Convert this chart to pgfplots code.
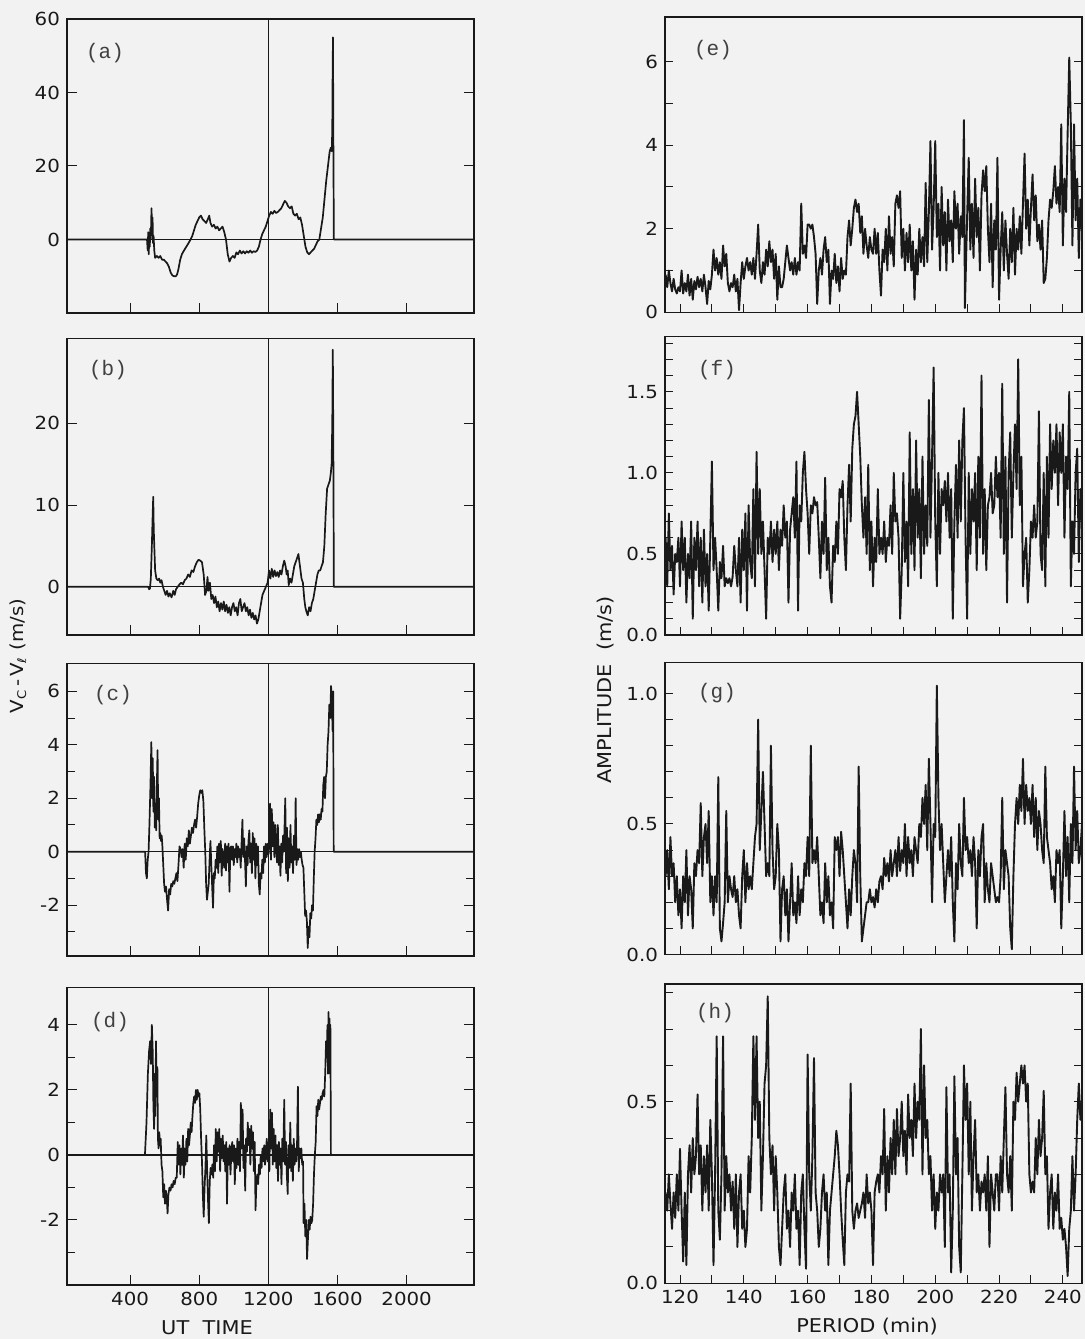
\documentclass[border=0pt]{standalone}
\usepackage{fontspec}
\usepackage{pgfplots}
\pgfplotsset{compat=1.18}
\setmainfont{DejaVu Sans}[FakeStretch=1.1]
\newfontfamily\labfont{Liberation Mono}
\definecolor{ink}{gray}{0.1}
\definecolor{paper}{gray}{0.95}
\tikzset{plab/.style={font=\labfont\fontsize{10.5}{12}\selectfont, text=black!75}}
\pgfplotsset{
  panel/.style={scale only axis, axis line style={line width=0.7pt, ink},
    tick style={line width=0.5pt, ink}, tick align=inside, xtick pos=left, ytick pos=both,
    ticklabel style={font=\fontsize{9}{10}\selectfont, text=ink},
    /pgf/number format/assume math mode=true, /pgf/number format/1000 sep={}},
  leftpanel/.style={panel, width=203.5pt, xmin=35, xmax=2390, xtick={400,800,1200,1600,2000},
    major tick length=5pt, minor tick length=4pt},
  rightpanel/.style={panel, width=208.5pt, xmin=115.3, xmax=246, xtick={120,140,...,240},
    minor xtick={130,150,...,230}, major tick length=4pt, minor tick length=4pt},
  data/.style={ink, line width=0.85pt, line join=round},
  rdata/.style={ink, line width=0.95pt, line join=round},
}
\begin{document}
\begin{tikzpicture}
\path[use as bounding box, fill=paper] (0,0) rectangle (542.5pt,669.5pt);
% (a)
\begin{axis}[leftpanel, at={(33.5pt,513pt)}, anchor=south west, height=147pt,
  ymin=-20, ymax=60, ytick={0,20,40,60}, xticklabels={}]
\addplot[ink, line width=0.45pt] coordinates {(1200,-100)(1200,100)};
\addplot[ink, line width=0.6pt] coordinates {(0,0)(2400,0)};
\addplot[data] coordinates {(0,0)(498,0)(502,-3)(505,2)(508,-4)(511,1)(514,-2)(517,3)(520,0)(524,8.5)(527,3)(530,6)(533,-1)(536,1)(540,-3)(545,-5)(555,-4.5)(565,-5)(575,-4.5)(585,-5.5)(595,-5.5)(605,-6)(615,-6.5)(625,-7.5)(635,-9)(645,-9.8)(655,-10)(665,-10)(672,-9.5)(680,-8)(690,-5.5)(700,-4)(712,-3)(725,-2)(738,-1)(750,0)(760,1)(770,2.5)(780,4)(790,5)(800,6)(810,6.5)(820,5.5)(830,5)(840,4.5)(850,5.5)(858,6.5)(865,4.5)(875,3.5)(885,4)(895,3)(905,3.5)(915,2.5)(925,3)(935,3.5)(945,2)(955,0)(965,-4)(975,-6)(985,-5)(995,-4.5)(1005,-5)(1015,-3.5)(1025,-4)(1035,-3)(1045,-3.8)(1055,-3.2)(1065,-3.8)(1075,-3.2)(1085,-3.6)(1095,-3.0)(1105,-3.6)(1115,-3.2)(1125,-3.4)(1135,-3)(1145,-2)(1155,0)(1165,1.5)(1175,2.5)(1185,3.5)(1195,5)(1205,6.5)(1215,7.5)(1225,7)(1235,7.8)(1245,7.2)(1255,7.5)(1265,8)(1275,8.5)(1285,9.5)(1295,10.5)(1305,10)(1315,9)(1325,8.5)(1335,9)(1345,7)(1355,6.5)(1365,7)(1375,5.5)(1385,6)(1395,4)(1405,1)(1415,-2)(1425,-3.5)(1435,-4)(1445,-3.5)(1455,-3)(1465,-2.5)(1475,-1.5)(1485,-0.5)(1495,0)(1505,3)(1515,6)(1525,11)(1535,16)(1545,20)(1555,24)(1562,25)(1567,24)(1570,30)(1572,45)(1574,55)(1576,30)(1579,0)(2400,0)};
\node[plab] at ([xshift=19pt,yshift=-17pt]rel axis cs:0,1) {(a)};
\end{axis}
% (b)
\begin{axis}[leftpanel, at={(33.5pt,352pt)}, anchor=south west, height=148.35pt,
  ymin=-5.9, ymax=30.4, ytick={0,10,20}, xticklabels={}]
\addplot[ink, line width=0.45pt] coordinates {(1200,-100)(1200,100)};
\addplot[ink, line width=0.6pt] coordinates {(0,0)(2400,0)};
\addplot[data] coordinates {(0,0)(505,0)(510,-0.3)(515,-0.2)(520,1)(526,5)(531,9)(534,11)(537,7)(540,5)(545,2)(552,1)(560,0.8)(568,1)(575,0.5)(582,0.8)(590,0)(598,-0.5)(606,-1)(614,-0.5)(622,-1.2)(630,-0.8)(640,-1.3)(650,-0.5)(658,-1)(666,-0.3)(676,0)(686,0.3)(696,0.5)(706,0.3)(716,0.8)(726,1)(736,1.5)(746,1.2)(756,2)(766,1.8)(776,2.5)(786,3)(796,3.3)(806,3.2)(816,3)(826,1.5)(834,-1)(842,-0.5)(848,1.2)(854,-0.5)(862,0.5)(870,-1.5)(878,-1)(886,-2)(894,-1.2)(902,-2.5)(910,-1.8)(918,-3)(926,-2)(934,-2.8)(942,-1.8)(950,-3)(958,-2.2)(966,-3.2)(974,-2.5)(982,-3.5)(990,-2.5)(998,-2)(1006,-3)(1014,-2.5)(1022,-3.5)(1030,-2)(1038,-1.5)(1046,-3)(1054,-2.5)(1062,-2)(1070,-3)(1078,-2.5)(1086,-3.5)(1094,-2.8)(1102,-3.8)(1110,-3.2)(1118,-4)(1126,-3.5)(1134,-4.5)(1142,-4)(1150,-3)(1158,-2)(1166,-1)(1176,-0.5)(1186,0)(1196,0.5)(1204,2)(1212,1)(1220,2.2)(1228,1.2)(1236,2)(1244,1.3)(1252,1.8)(1260,1.2)(1268,2)(1276,1.5)(1284,2.5)(1292,3.2)(1300,2.5)(1306,1.5)(1312,2)(1318,0.2)(1326,1)(1334,0.5)(1342,1.5)(1350,2.5)(1358,3)(1366,3.5)(1374,4)(1380,3)(1386,2)(1392,1)(1400,0.5)(1408,-1.5)(1414,-2.5)(1420,-3)(1428,-3.5)(1436,-2.5)(1444,-3)(1452,-2)(1460,-1.5)(1468,-0.5)(1476,0.5)(1484,1.5)(1492,2)(1500,2)(1508,2.5)(1516,3)(1524,5)(1532,9)(1540,12)(1548,12.5)(1556,13)(1562,14)(1566,15)(1570,20)(1573,29)(1576,18)(1579,0)(2400,0)};
\node[plab] at ([xshift=20.5pt,yshift=-16pt]rel axis cs:0,1) {(b)};
\end{axis}
% (c)
\begin{axis}[leftpanel, at={(33.5pt,191.5pt)}, anchor=south west, height=146.35pt,
  ymin=-3.9, ymax=7.05, ytick={-2,0,2,4,6}, minor ytick={-3,-1,1,3,5}, xticklabels={}]
\addplot[ink, line width=0.45pt] coordinates {(1200,-100)(1200,100)};
\addplot[ink, line width=0.6pt] coordinates {(0,0)(2400,0)};
\addplot[data] coordinates {(0,0)(487,0)(492,-0.8)(497,-1)(502,-0.3)(507,0)(512,1)(518,2.5)(523,4.1)(527,2)(531,3.5)(535,1.5)(539,2.8)(543,0.9)(547,1.8)(551,0.8)(555,2.5)(559,3.8)(563,1.2)(567,2)(571,0.5)(575,0.7)(579,0.4)(583,0.6)(587,0.2)(592,-0.5)(597,-1.2)(602,-1.5)(608,-1.3)(614,-1.8)(620,-2.2)(626,-1.4)(632,-1.6)(638,-1.2)(644,-1.3)(650,-1.1)(656,-1.2)(662,-1.0)(668,-0.8)(674,-1.1)(680,-0.5)(686,0.2)(692,0.1)(698,-0.2)(704,0.1)(710,-0.6)(716,0.3)(722,-0.3)(728,0.5)(734,0.2)(740,0.8)(746,0.3)(752,0.6)(758,0.9)(764,0.7)(770,1.0)(776,1.2)(782,0.9)(788,1.3)(794,1.8)(800,2.1)(806,2.3)(812,2.2)(818,2.3)(824,1.9)(830,0.8)(835,0)(840,-1.2)(845,-1.8)(850,-1.5)(855,-1.2)(860,-0.3)(865,0.4)(870,-0.5)(875,-1.3)(880,-2.1)(885,-0.8)(890,-1.0)(895,-0.3)(900,-0.6)(905,0.2)(910,-0.8)(915,0.3)(920,-0.4)(925,0.4)(930,-0.9)(935,0.1)(940,-0.3)(945,-0.6)(950,0.3)(955,-0.7)(960,0.2)(965,-0.4)(970,0.3)(975,-1.5)(980,0.1)(985,0.2)(990,-0.3)(995,0.2)(1000,-0.5)(1005,0.1)(1010,-0.2)(1015,0.3)(1020,-0.4)(1025,0.2)(1030,-0.2)(1035,0.1)(1040,-0.6)(1045,0.3)(1050,1.2)(1055,-0.2)(1060,0.5)(1065,-0.3)(1070,-1.3)(1075,0.2)(1080,-0.5)(1085,0.4)(1090,0.8)(1095,-0.4)(1100,0.3)(1105,-0.8)(1110,0.7)(1115,-0.3)(1120,0.5)(1125,-1.0)(1130,0.3)(1135,-0.5)(1140,0.2)(1145,-1.2)(1150,-1.6)(1155,-0.8)(1160,-1.0)(1165,-0.3)(1170,-0.8)(1175,0.2)(1180,-0.4)(1185,0.3)(1190,-0.2)(1195,0.3)(1200,-0.1)(1205,0.4)(1210,1.8)(1215,-0.3)(1220,1.6)(1225,0.2)(1230,1.1)(1235,-0.2)(1240,1.0)(1245,0.3)(1250,-0.4)(1255,1.0)(1260,-0.5)(1265,0.2)(1270,-0.9)(1275,0.3)(1280,-0.4)(1285,0.6)(1290,0)(1298,2.0)(1303,-0.8)(1308,0.9)(1313,-1.1)(1318,0.5)(1323,-0.6)(1328,1.0)(1333,-0.4)(1338,0.2)(1343,-0.8)(1348,0.6)(1353,-0.3)(1358,2.0)(1363,-0.5)(1368,0.1)(1373,-0.3)(1378,0.1)(1383,-0.2)(1388,0)(1393,-0.3)(1398,-0.5)(1403,-0.6)(1408,-1.5)(1413,-2.4)(1418,-2.2)(1423,-2.6)(1428,-3.6)(1433,-2.8)(1438,-3.2)(1443,-2.3)(1448,-2.5)(1453,-2.0)(1458,-2.2)(1463,-1.0)(1468,0)(1473,0.5)(1478,1.2)(1483,1.0)(1488,1.4)(1493,1.1)(1498,1.4)(1503,1.2)(1508,1.6)(1513,1.5)(1518,2.5)(1523,2.8)(1528,2.0)(1533,2.8)(1538,3.0)(1543,4.0)(1548,4.5)(1553,5.5)(1558,5.0)(1563,6.2)(1568,5.5)(1572,4.5)(1575,6.0)(1578,0)(2400,0)};
\node[plab] at ([xshift=23pt,yshift=-16pt]rel axis cs:0,1) {(c)};
\end{axis}
% (d)
\begin{axis}[leftpanel, at={(33.5pt,27pt)}, anchor=south west, height=148.85pt,
  ymin=-4, ymax=5.16, ytick={-2,0,2,4}, minor ytick={-3,-1,1,3}]
\addplot[ink, line width=0.45pt] coordinates {(1200,-100)(1200,100)};
\addplot[ink, line width=0.6pt] coordinates {(0,0)(2400,0)};
\addplot[data] coordinates {(0,0)(486,0)(495,1)(503,2.5)(510,3.2)(516,3.5)(521,2.8)(526,4.0)(531,3.2)(535,1.5)(539,0.8)(543,2.5)(546,1.2)(550,3.5)(554,1.8)(558,2.7)(561,0.5)(565,0.2)(569,0.7)(573,0.3)(577,0.5)(582,-0.3)(587,-0.5)(592,-1.3)(597,-0.9)(602,-1.5)(607,-1.1)(612,-1.3)(617,-1.8)(622,-1.2)(628,-1.0)(634,-1.1)(640,-0.9)(646,-1.0)(652,-0.8)(658,-0.9)(664,-0.7)(670,-0.7)(676,0.4)(681,-0.3)(686,0.3)(691,-0.6)(696,0.2)(701,-0.3)(706,0.6)(711,-0.7)(716,0.2)(721,-0.3)(726,0.5)(731,-0.2)(736,0.8)(741,0.3)(746,0.6)(751,1.0)(756,0.7)(761,1.2)(766,1.6)(771,1.8)(776,1.6)(781,2.0)(786,1.7)(791,2.0)(796,1.8)(801,1.9)(806,1.4)(811,0.5)(816,-0.2)(821,-1.2)(826,-1.9)(831,-1.0)(836,-0.4)(841,0.6)(846,-0.5)(851,-1.4)(856,-2.1)(861,-0.8)(866,-0.4)(871,-0.6)(876,-0.3)(881,-0.7)(886,0.3)(891,-0.5)(896,0.8)(901,-0.2)(906,0.7)(911,0.1)(916,0.8)(921,-0.5)(926,0.5)(931,-0.1)(936,0.6)(941,-0.2)(946,0.3)(951,-0.5)(956,0.4)(961,-1.5)(966,0.2)(971,-0.3)(976,0.3)(981,-0.6)(986,0.1)(991,0.4)(996,-0.2)(1001,0.3)(1006,-0.9)(1011,0.2)(1016,-0.4)(1021,0.5)(1026,-0.3)(1031,0.4)(1036,-0.5)(1041,1.6)(1046,0.2)(1051,1.4)(1056,-0.4)(1061,0.3)(1066,-1.1)(1071,0.5)(1076,0.1)(1081,1.0)(1086,0.3)(1091,0.8)(1096,-0.3)(1101,0.9)(1106,0.2)(1111,0.7)(1116,-0.5)(1121,0.4)(1126,-1.7)(1131,-0.8)(1136,-0.6)(1141,-0.9)(1146,-0.3)(1151,-0.6)(1156,0)(1161,-0.4)(1166,0.2)(1171,-0.2)(1176,0.3)(1181,-0.3)(1186,0.1)(1191,0.5)(1196,-0.2)(1201,0.3)(1206,-0.5)(1211,1.4)(1216,0.2)(1221,1.3)(1226,-0.3)(1231,0.8)(1236,-0.2)(1241,0.6)(1246,-0.4)(1251,0.3)(1256,-0.8)(1261,0.4)(1266,-0.3)(1271,0.2)(1276,-0.9)(1281,0.5)(1286,-0.2)(1292,1.7)(1297,-0.3)(1302,0.4)(1307,-0.6)(1312,-1.2)(1317,0.3)(1322,-0.4)(1327,1.0)(1332,-0.5)(1337,0.3)(1342,-0.8)(1347,0.5)(1352,-0.3)(1357,0.2)(1362,-0.2)(1366,0.3)(1371,2.1)(1376,-0.5)(1381,0.2)(1386,-0.1)(1391,0.2)(1396,-0.3)(1401,-0.2)(1404,-2.1)(1409,-1.5)(1414,-2.5)(1419,-2.0)(1424,-3.2)(1429,-2.6)(1434,-2.0)(1439,-2.3)(1444,-1.9)(1449,-2.1)(1454,-2.0)(1459,-1.5)(1464,-0.6)(1469,0)(1474,0.4)(1479,1.5)(1484,1.2)(1489,1.7)(1494,1.4)(1499,1.6)(1504,1.8)(1509,1.7)(1514,1.9)(1519,2.0)(1524,1.8)(1529,2.5)(1534,3.5)(1538,3.0)(1542,4.0)(1545,2.5)(1548,4.4)(1551,3.0)(1554,4.2)(1557,2.5)(1559,4.0)(1562,0)(2400,0)};
\node[plab] at ([xshift=21.5pt,yshift=-17.5pt]rel axis cs:0,1) {(d)};
\end{axis}
% (e)
\begin{axis}[rightpanel, at={(332.5pt,513.35pt)}, anchor=south west, height=147.65pt,
  ymin=0, ymax=7.07, ytick={0,2,4,6}, minor ytick={1,3,5}, xticklabels={}]
\addplot[rdata] coordinates {(115.5,0.9)(116,0.6)(116.5,1.0)(117,0.7)(117.5,0.5)(118,0.8)(118.5,0.55)(119,0.45)(119.5,0.6)(120,0.5)(120.5,1.0)(121,0.45)(121.5,0.7)(122,0.5)(122.5,0.9)(123,0.4)(123.5,0.8)(124,0.3)(124.5,0.75)(125,0.55)(125.5,0.85)(126,0.6)(126.5,0.8)(127,0.5)(127.5,0.9)(128,0.6)(128.5,0.2)(129,0.75)(129.5,0.55)(130,0.9)(130.5,1.5)(131,1.0)(131.5,1.3)(132,0.9)(132.5,1.2)(133,0.8)(133.5,1.6)(134,1.1)(134.5,1.4)(135,0.7)(135.5,0.5)(136,0.7)(136.5,0.6)(137,0.9)(137.5,0.5)(138,0.8)(138.5,0.05)(139,0.7)(139.5,1.2)(140,0.8)(140.5,1.1)(141,1.3)(141.5,1.0)(142,1.2)(142.5,0.9)(143,1.3)(143.5,0.8)(144,1.4)(144.5,2.1)(145,1.0)(145.5,0.7)(146,1.2)(146.5,0.9)(147,1.5)(147.5,1.1)(148,1.7)(148.5,1.2)(149,1.5)(149.5,0.8)(150,1.4)(150.5,0.3)(151,1.1)(151.5,0.6)(152,0.6)(152.5,0.8)(153,1.2)(153.5,1.6)(154,1.3)(154.5,1.0)(155,1.2)(155.5,0.9)(156,1.3)(156.5,0.9)(157,1.2)(157.5,1.0)(158,2.6)(158.5,1.4)(159,1.6)(159.5,1.3)(160,2.1)(160.5,2.1)(161,2.0)(161.5,2.1)(162,1.8)(162.5,1.4)(163,0.2)(163.5,1.0)(164,1.3)(164.5,0.9)(165,1.5)(165.5,1.8)(166,1.2)(166.5,1.5)(167,0.2)(167.5,1.0)(168,0.8)(168.5,1.4)(169,0.7)(169.5,1.1)(170,0.5)(170.5,1.3)(171,0.8)(171.5,1.0)(172,0.9)(172.5,1.8)(173,2.2)(173.5,1.6)(174,2.0)(174.5,2.5)(175,2.7)(175.5,2.4)(176,2.6)(176.5,1.9)(177,2.3)(177.5,1.4)(178,2.0)(178.5,1.6)(179,1.3)(179.5,1.8)(180,1.5)(180.5,1.4)(181,2.0)(181.5,1.4)(182,1.9)(182.5,1.0)(183,0.4)(183.5,1.5)(184,1.2)(184.5,2.0)(185,1.0)(185.5,2.3)(186,1.4)(186.5,1.8)(187,1.1)(187.5,2.6)(188,2.8)(188.5,2.5)(189,2.9)(189.5,1.3)(190,2.0)(190.5,1.0)(191,1.9)(191.5,1.2)(192,2.1)(192.5,1.0)(193,1.7)(193.5,0.3)(194,1.5)(194.5,0.9)(195,2.0)(195.5,1.2)(196,1.8)(196.5,1.1)(197,3.1)(197.5,1.2)(198,2.4)(198.5,4.1)(199,1.5)(199.5,2.5)(200,4.1)(200.5,1.8)(201,2.6)(201.5,1.0)(202,3.0)(202.5,1.6)(203,2.4)(203.5,1.0)(204,2.7)(204.5,1.7)(205,2.2)(205.5,1.2)(206,2.9)(206.5,2.0)(207,2.6)(207.5,1.4)(208,2.3)(208.5,1.8)(209,4.6)(209.3,0.1)(210,2.3)(210.5,3.7)(211,1.5)(211.5,2.6)(212,1.3)(212.5,3.2)(213,1.8)(213.5,2.5)(214,1.0)(214.5,2.8)(215,3.4)(215.5,2.9)(216,3.5)(216.5,2.0)(217,1.2)(217.5,2.6)(218,0.6)(218.5,2.2)(219,1.5)(219.5,3.7)(220,0.3)(220.5,1.5)(221,2.4)(221.5,1.0)(222,2.2)(222.5,1.4)(223,0.8)(223.5,2.0)(224,1.2)(224.5,2.5)(225,0.9)(225.5,2.0)(226,1.5)(226.5,2.3)(227,1.4)(227.5,2.6)(228,3.8)(228.5,2.0)(229,2.7)(229.5,1.6)(230,2.5)(230.5,3.3)(231,2.2)(231.5,2.8)(232,1.7)(232.5,2.1)(233,1.5)(233.5,2.2)(234,0.7)(234.5,0.8)(235,1.3)(235.5,2.2)(236,2.7)(236.5,2.5)(237,2.9)(237.5,3.5)(238,2.6)(238.5,3.0)(239,2.4)(239.5,4.5)(240,1.6)(240.5,3.2)(241,2.4)(241.5,4.3)(242,6.1)(242.5,4.5)(243,1.6)(243.5,4.5)(244,2.2)(244.5,3.2)(245,1.3)(245.5,2.7)(246,2.0)};
\node[plab] at ([xshift=24pt,yshift=-16.5pt]rel axis cs:0,1) {(e)};
\end{axis}
% (f)
\begin{axis}[rightpanel, at={(332.5pt,352pt)}, anchor=south west, height=149.15pt,
  ymin=0, ymax=1.84, ytick={0,0.5,1.0,1.5}, minor ytick={0.1,0.2,...,1.8}, xticklabels={},
  yticklabel style={/pgf/number format/.cd, fixed, fixed zerofill, precision=1}]
\addplot[rdata] coordinates {(115.5,0.6)(116,0.3)(116.5,0.75)(117,0.4)(117.5,0.55)(118,0.25)(118.5,0.5)(119,0.45)(119.5,0.6)(120,0.3)(120.5,0.7)(121,0.4)(121.5,0.6)(122,0.2)(122.5,0.5)(123,0.35)(123.5,0.7)(124,0.1)(124.5,0.6)(125,0.4)(125.5,0.7)(126,0.3)(126.5,0.6)(127,0.2)(127.5,0.65)(128,0.3)(128.5,0.5)(129,0.15)(129.5,0.6)(130,1.07)(130.5,0.4)(131,0.6)(131.5,0.4)(132,0.15)(132.5,0.45)(133,0.35)(133.5,0.55)(134,0.3)(134.5,0.35)(135,0.32)(135.5,0.35)(136,0.3)(136.5,0.36)(137,0.55)(137.5,0.4)(138,0.3)(138.5,0.6)(139,0.2)(139.5,0.65)(140,0.4)(140.5,0.75)(141,0.15)(141.5,0.8)(142,0.45)(142.5,0.35)(143,0.9)(143.5,0.3)(144,1.13)(144.5,0.5)(145,0.9)(145.5,0.5)(146,0.7)(146.5,0.4)(147,0.1)(147.5,0.6)(148,0.5)(148.5,0.7)(149,0.45)(149.5,0.65)(150,0.5)(150.5,0.7)(151,0.4)(151.5,0.65)(152,0.55)(152.5,0.8)(153,0.6)(153.5,0.7)(154,0.2)(154.5,0.65)(155,0.75)(155.5,0.85)(156,0.6)(156.5,1.07)(157,0.15)(157.5,0.8)(158,0.7)(158.5,1.0)(159,1.13)(159.5,0.9)(160,0.75)(160.5,0.5)(161,0.8)(161.5,0.75)(162,0.85)(162.5,0.8)(163,0.82)(163.5,0.6)(164,0.35)(164.5,0.7)(165,0.5)(165.5,0.97)(166,0.4)(166.5,0.6)(167,0.3)(167.5,0.2)(168,0.55)(168.5,0.45)(169,0.7)(169.5,0.5)(170,0.9)(170.5,0.85)(171,0.95)(171.5,0.6)(172,0.4)(172.5,0.8)(173,1.05)(173.5,0.7)(174,1.15)(174.5,1.3)(175,1.35)(175.5,1.5)(176,1.3)(176.5,1.1)(177,0.8)(177.5,0.6)(178,0.85)(178.5,0.5)(179,1.05)(179.5,0.4)(180,0.7)(180.5,0.3)(181,0.6)(181.5,0.45)(182,0.9)(182.5,0.5)(183,0.6)(183.5,0.5)(184,0.7)(184.5,0.45)(185,0.6)(185.5,0.55)(186,0.8)(186.5,0.5)(187,1.0)(187.5,0.7)(188,0.75)(188.5,0.6)(189,0.1)(189.5,0.4)(190,1.0)(190.5,0.45)(191,0.7)(191.5,0.3)(192,1.25)(192.5,0.5)(193,0.9)(193.5,0.4)(194,1.2)(194.5,0.6)(195,0.9)(195.5,0.35)(196,1.1)(196.5,0.5)(197,0.8)(197.5,0.55)(198,1.45)(198.5,0.6)(199,1.1)(199.5,1.65)(200,0.7)(200.5,0.3)(201,1.0)(201.5,0.5)(202,0.9)(202.5,0.8)(203,0.95)(203.5,0.7)(204,1.0)(204.5,0.6)(205,0.9)(205.5,0.1)(206,0.7)(206.5,1.05)(207,0.6)(207.5,1.2)(208,0.7)(208.5,1.2)(209,1.4)(209.5,0.6)(210,0.1)(210.5,1.0)(211,0.5)(211.5,0.9)(212,0.7)(212.5,1.0)(213,0.4)(213.5,1.1)(214,0.6)(214.5,1.6)(215,0.5)(215.5,0.9)(216,0.4)(216.5,0.8)(217,0.85)(217.5,1.0)(218,0.75)(218.5,0.8)(219,1.1)(219.5,0.85)(220,1.0)(220.5,0.6)(221,1.55)(221.5,0.5)(222,1.1)(222.5,0.2)(223,1.0)(223.5,1.25)(224,0.6)(224.5,1.0)(225,1.3)(225.5,0.9)(226,1.7)(226.5,0.8)(227,1.1)(227.5,0.3)(228,0.5)(228.5,0.6)(229,0.2)(229.5,0.4)(230,0.7)(230.5,0.6)(231,0.8)(231.5,0.6)(232,0.7)(232.5,1.38)(233,0.5)(233.5,0.4)(234,1.0)(234.5,0.3)(235,1.1)(235.5,0.6)(236,1.3)(236.5,0.9)(237,1.2)(237.5,1.0)(238,1.3)(238.5,0.8)(239,1.25)(239.5,1.0)(240,1.3)(240.5,0.6)(241,1.1)(241.5,0.9)(242,1.5)(242.5,0.3)(243,0.7)(243.5,0.5)(244,1.0)(244.5,1.15)(245,0.45)(245.5,0.9)(246,0.7)};
\node[plab] at ([xshift=26pt,yshift=-16.5pt]rel axis cs:0,1) {(f)};
\end{axis}
% (g)
\begin{axis}[rightpanel, at={(332.5pt,192.25pt)}, anchor=south west, height=145.9pt,
  ymin=0, ymax=1.118, ytick={0,0.5,1.0}, minor ytick={0.1,0.2,...,1.0}, xticklabels={},
  yticklabel style={/pgf/number format/.cd, fixed, fixed zerofill, precision=1}]
\addplot[rdata] coordinates {(115.5,0.3)(116,0.4)(116.5,0.25)(117,0.45)(117.5,0.3)(118,0.35)(118.5,0.2)(119,0.3)(119.5,0.15)(120,0.25)(120.5,0.1)(121,0.3)(121.5,0.2)(122,0.4)(122.5,0.15)(123,0.3)(123.5,0.25)(124,0.1)(124.5,0.35)(125,0.3)(125.5,0.4)(126,0.35)(126.5,0.58)(127,0.3)(127.5,0.45)(128,0.5)(128.5,0.35)(129,0.55)(129.5,0.2)(130,0.3)(130.5,0.15)(131,0.3)(131.5,0.2)(132,0.68)(132.5,0.1)(133,0.05)(133.5,0.12)(134,0.2)(134.5,0.55)(135,0.2)(135.5,0.3)(136,0.25)(136.5,0.22)(137,0.3)(137.5,0.2)(138,0.25)(138.5,0.15)(139,0.1)(139.5,0.3)(140,0.4)(140.5,0.2)(141,0.35)(141.5,0.25)(142,0.3)(142.5,0.25)(143,0.35)(143.5,0.45)(144,0.5)(144.5,0.9)(145,0.4)(145.5,0.55)(146,0.7)(146.5,0.5)(147,0.3)(147.5,0.35)(148,0.3)(148.5,0.8)(149,0.4)(149.5,0.25)(150,0.3)(150.5,0.5)(151,0.4)(151.5,0.05)(152,0.25)(152.5,0.3)(153,0.15)(153.5,0.25)(154,0.05)(154.5,0.2)(155,0.35)(155.5,0.15)(156,0.2)(156.5,0.12)(157,0.3)(157.5,0.15)(158,0.25)(158.5,0.2)(159,0.35)(159.5,0.3)(160,0.45)(160.5,0.3)(161,0.8)(161.5,0.35)(162,0.4)(162.5,0.35)(163,0.45)(163.5,0.3)(164,0.15)(164.5,0.2)(165,0.12)(165.5,0.35)(166,0.2)(166.5,0.3)(167,0.15)(167.5,0.2)(168,0.1)(168.5,0.45)(169,0.4)(169.5,0.45)(170,0.3)(170.5,0.47)(171,0.4)(171.5,0.3)(172,0.2)(172.5,0.1)(173,0.25)(173.5,0.15)(174,0.3)(174.5,0.4)(175,0.35)(175.5,0.2)(176,0.72)(176.5,0.3)(177,0.05)(177.5,0.1)(178,0.15)(178.5,0.2)(179,0.2)(179.5,0.25)(180,0.2)(180.5,0.22)(181,0.18)(181.5,0.25)(182,0.2)(182.5,0.28)(183,0.3)(183.5,0.25)(184,0.37)(184.5,0.3)(185,0.35)(185.5,0.28)(186,0.4)(186.5,0.3)(187,0.35)(187.5,0.4)(188,0.3)(188.5,0.45)(189,0.32)(189.5,0.4)(190,0.35)(190.5,0.5)(191,0.3)(191.5,0.45)(192,0.35)(192.5,0.4)(193,0.3)(193.5,0.45)(194,0.4)(194.5,0.35)(195,0.5)(195.5,0.45)(196,0.6)(196.5,0.5)(197,0.65)(197.5,0.4)(198,0.75)(198.5,0.5)(199,0.2)(199.5,0.5)(200,0.45)(200.5,1.03)(201,0.6)(201.5,0.4)(202,0.5)(202.5,0.35)(203,0.2)(203.5,0.3)(204,0.4)(204.5,0.3)(205,0.45)(205.5,0.2)(206,0.05)(206.5,0.35)(207,0.25)(207.5,0.5)(208,0.35)(208.5,0.3)(209,0.6)(209.5,0.4)(210,0.45)(210.5,0.35)(211,0.4)(211.5,0.3)(212,0.45)(212.5,0.35)(213,0.1)(213.5,0.4)(214,0.3)(214.5,0.45)(215,0.5)(215.5,0.2)(216,0.35)(216.5,0.25)(217,0.2)(217.5,0.35)(218,0.3)(218.5,0.25)(219,0.2)(219.5,0.22)(220,0.2)(220.5,0.3)(221,0.6)(221.5,0.25)(222,0.4)(222.5,0.35)(223,0.3)(223.5,0.1)(224,0.02)(224.5,0.3)(225,0.5)(225.5,0.6)(226,0.5)(226.5,0.65)(227,0.55)(227.5,0.75)(228,0.5)(228.5,0.65)(229,0.55)(229.5,0.6)(230,0.5)(230.5,0.65)(231,0.45)(231.5,0.6)(232,0.4)(232.5,0.55)(233,0.5)(233.5,0.4)(234,0.35)(234.5,0.72)(235,0.45)(235.5,0.4)(236,0.35)(236.5,0.25)(237,0.3)(237.5,0.2)(238,0.4)(238.5,0.35)(239,0.4)(239.5,0.1)(240,0.3)(240.5,0.55)(241,0.3)(241.5,0.45)(242,0.2)(242.5,0.5)(243,0.35)(243.5,0.72)(244,0.4)(244.5,0.55)(245,0.35)(245.5,0.4)(246,0.5)};
\node[plab] at ([xshift=26pt,yshift=-15pt]rel axis cs:0,1) {(g)};
\end{axis}
% (h)
\begin{axis}[rightpanel, at={(332.5pt,27.85pt)}, anchor=south west, height=149.65pt,
  ymin=0, ymax=0.824, ytick={0,0.5}, minor ytick={0.1,0.2,0.3,0.4,0.6,0.7,0.8},
  yticklabel style={/pgf/number format/.cd, fixed, fixed zerofill, precision=1}]
\addplot[rdata] coordinates {(115.5,0.25)(116,0.2)(116.5,0.3)(117,0.22)(117.5,0.15)(118,0.25)(118.5,0.18)(119,0.3)(119.5,0.2)(120,0.37)(120.5,0.2)(121,0.06)(121.5,0.25)(122,0.05)(122.5,0.3)(123,0.38)(123.5,0.25)(124,0.4)(124.5,0.3)(125,0.35)(125.5,0.52)(126,0.3)(126.5,0.38)(127,0.2)(127.5,0.35)(128,0.25)(128.5,0.38)(129,0.2)(129.5,0.45)(130,0.3)(130.5,0.05)(131,0.3)(131.5,0.68)(132,0.2)(132.5,0.12)(133,0.3)(133.5,0.68)(134,0.2)(134.5,0.35)(135,0.25)(135.5,0.3)(136,0.2)(136.5,0.28)(137,0.15)(137.5,0.3)(138,0.1)(138.5,0.25)(139,0.3)(139.5,0.15)(140,0.2)(140.5,0.1)(141,0.15)(141.5,0.35)(142,0.25)(142.5,0.4)(143,0.68)(143.5,0.45)(144,0.68)(144.5,0.4)(145,0.5)(145.5,0.2)(146,0.35)(146.5,0.55)(147,0.6)(147.5,0.79)(148,0.4)(148.5,0.3)(149,0.38)(149.5,0.2)(150,0.35)(150.5,0.25)(151,0.1)(151.5,0.05)(152,0.15)(152.5,0.25)(153,0.3)(153.5,0.15)(154,0.2)(154.5,0.1)(155,0.25)(155.5,0.2)(156,0.3)(156.5,0.15)(157,0.2)(157.5,0.05)(158,0.25)(158.5,0.3)(159,0.15)(159.5,0.04)(160,0.63)(160.5,0.3)(161,0.2)(161.5,0.35)(162,0.62)(162.5,0.25)(163,0.2)(163.5,0.1)(164,0.15)(164.5,0.25)(165,0.3)(165.5,0.2)(166,0.25)(166.5,0.05)(167,0.2)(167.5,0.25)(168,0.3)(168.5,0.35)(169,0.42)(169.5,0.38)(170,0.3)(170.5,0.2)(171,0.12)(171.5,0.05)(172,0.25)(172.5,0.3)(173,0.28)(173.5,0.55)(174,0.2)(174.5,0.15)(175,0.2)(175.5,0.22)(176,0.18)(176.5,0.2)(177,0.22)(177.5,0.25)(178,0.18)(178.5,0.3)(179,0.22)(179.5,0.25)(180,0.2)(180.5,0.05)(181,0.25)(181.5,0.28)(182,0.3)(182.5,0.25)(183,0.35)(183.5,0.3)(184,0.48)(184.5,0.2)(185,0.35)(185.5,0.25)(186,0.4)(186.5,0.3)(187,0.45)(187.5,0.3)(188,0.48)(188.5,0.35)(189,0.4)(189.5,0.5)(190,0.35)(190.5,0.42)(191,0.3)(191.5,0.52)(192,0.4)(192.5,0.45)(193,0.35)(193.5,0.55)(194,0.4)(194.5,0.5)(195,0.45)(195.5,0.7)(196,0.3)(196.5,0.6)(197,0.4)(197.5,0.45)(198,0.3)(198.5,0.35)(199,0.2)(199.5,0.3)(200,0.15)(200.5,0.25)(201,0.2)(201.5,0.3)(202,0.25)(202.5,0.3)(203,0.1)(203.5,0.54)(204,0.25)(204.5,0.3)(205,0.03)(205.5,0.2)(206,0.57)(206.5,0.3)(207,0.4)(207.5,0.1)(208,0.03)(208.5,0.3)(209,0.6)(209.5,0.45)(210,0.55)(210.5,0.3)(211,0.5)(211.5,0.2)(212,0.35)(212.5,0.45)(213,0.25)(213.5,0.3)(214,0.2)(214.5,0.28)(215,0.25)(215.5,0.3)(216,0.2)(216.5,0.35)(217,0.1)(217.5,0.3)(218,0.25)(218.5,0.2)(219,0.3)(219.5,0.3)(220,0.2)(220.5,0.35)(221,0.25)(221.5,0.4)(222,0.54)(222.5,0.3)(223,0.25)(223.5,0.35)(224,0.2)(224.5,0.5)(225,0.45)(225.5,0.58)(226,0.5)(226.5,0.55)(227,0.6)(227.5,0.55)(228,0.6)(228.5,0.5)(229,0.55)(229.5,0.3)(230,0.25)(230.5,0.28)(231,0.25)(231.5,0.4)(232,0.3)(232.5,0.45)(233,0.35)(233.5,0.4)(234,0.53)(234.5,0.3)(235,0.35)(235.5,0.15)(236,0.25)(236.5,0.3)(237,0.15)(237.5,0.25)(238,0.2)(238.5,0.3)(239,0.15)(239.5,0.18)(240,0.12)(240.5,0.15)(241,0.1)(241.5,0.02)(242,0.15)(242.5,0.2)(243,0.35)(243.5,0.2)(244,0.3)(244.5,0.45)(245,0.55)(245.5,0.45)(246,0.5)};
\node[plab] at ([xshift=25pt,yshift=-14.5pt]rel axis cs:0,1) {(h)};
\end{axis}
% axis titles
\node[rotate=90, font=\fontsize{9}{10}\selectfont, text=ink] at (9pt,341.5pt) {V\textsubscript{C}\,-\,V\textsubscript{ℓ} (m/s)};
\node[rotate=90, font=\fontsize{9.5}{10}\selectfont, text=ink] at (303pt,324.5pt) {AMPLITUDE\ \ (m/s)};
\node[font=\fontsize{9.5}{10}\selectfont, text=ink] at (103.5pt,5.5pt) {UT\ \ TIME};
\node[font=\fontsize{9.5}{10}\selectfont, text=ink] at (433.5pt,6pt) {PERIOD (min)};
\end{tikzpicture}
\end{document}
